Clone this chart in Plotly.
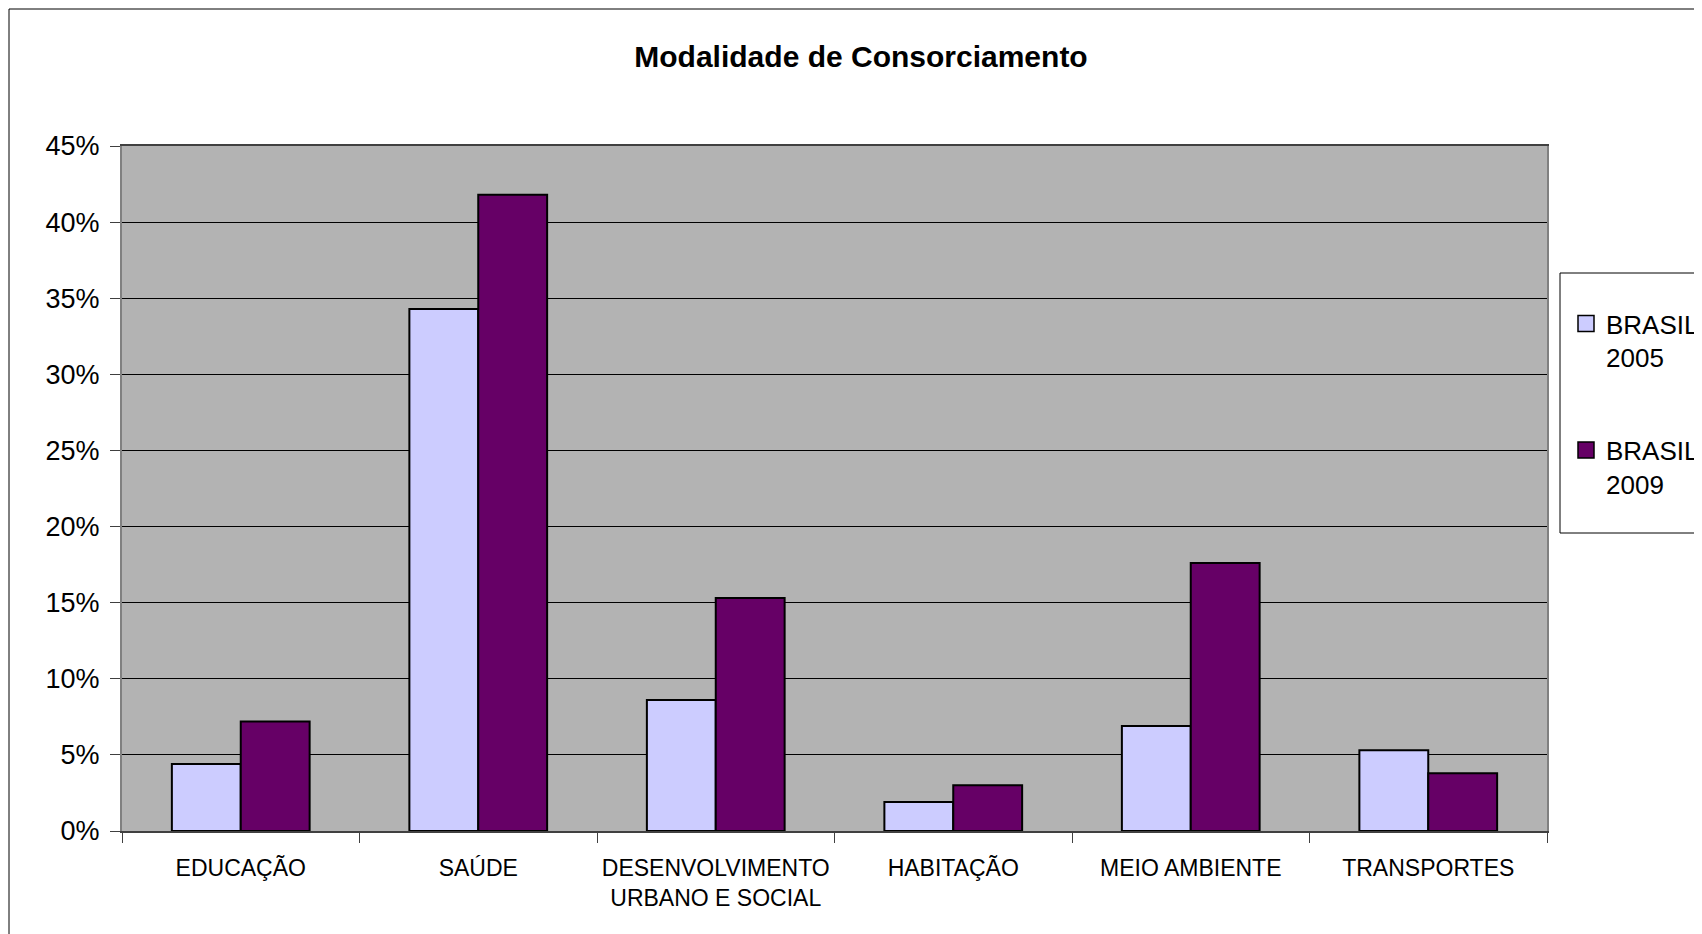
import plotly.graph_objects as go

categories = ["EDUCAÇÃO", "SAÚDE", "DESENVOLVIMENTO<br>URBANO E SOCIAL", "HABITAÇÃO", "MEIO AMBIENTE", "TRANSPORTES"]
brasil_2005 = [0.044, 0.343, 0.086, 0.019, 0.069, 0.053]
brasil_2009 = [0.072, 0.418, 0.153, 0.030, 0.176, 0.038]
series_names = ["BRASIL<br>2005", "BRASIL<br>2009"]
series_colors = ["#CCCCFF", "#660066"]
y_ticks = [0, 0.05, 0.10, 0.15, 0.20, 0.25, 0.30, 0.35, 0.40, 0.45]

FONT = "Arial, Liberation Sans, sans-serif"
OFF = 8  # default body margin of the html page
W, H = 1702 - OFF, 934 - OFF
L, R, T, B = 114, 155, 138, 103
PW, PH = W - L - R, H - T - B

def px_x(p):  # page pixel -> paper x
    return (p - OFF - L) / PW

def px_y(p):  # page pixel -> paper y
    return (H - B - (p - OFF)) / PH

fig = go.Figure()
for i, (name, vals) in enumerate(zip(series_names, [brasil_2005, brasil_2009])):
    fig.add_trace(go.Bar(
        x=categories, y=vals, name=name, legendgroup=str(i), showlegend=False,
        marker=dict(color=series_colors[i], line=dict(color="black", width=2)),
    ))
# legend entries with larger square swatches
for i, name in enumerate(series_names):
    fig.add_trace(go.Scatter(
        x=[None], y=[None], mode="markers", name=name, legendgroup=str(i),
        marker=dict(symbol="square", size=18, color=series_colors[i], line=dict(color="black", width=1.5)),
    ))

fig.update_layout(
    width=W, height=H,
    margin=dict(l=L, r=R, t=T, b=B, autoexpand=False),
    paper_bgcolor="white", plot_bgcolor="#B3B3B3",
    barmode="group", bargap=0.42, bargroupgap=0,
    font=dict(family=FONT, color="black"),
    title=dict(text="Modalidade de Consorciamento", x=px_x(861), xref="paper", xanchor="center",
               y=1 - (56 - OFF) / H, yref="container", yanchor="middle",
               font=dict(family=FONT, size=30, weight="bold", color="black")),
    showlegend=True,
    legend=dict(x=px_x(1566), y=px_y(300), xanchor="left", yanchor="top",
                font=dict(family=FONT, size=26, color="black"),
                bgcolor="rgba(0,0,0,0)", borderwidth=0, valign="top",
                traceorder="grouped", tracegroupgap=56),
    shapes=[
        dict(type="rect", xref="paper", yref="paper", x0=px_x(9), x1=1.3, y0=-0.3, y1=px_y(9),
             line=dict(color="black", width=1), layer="below"),
        dict(type="rect", xref="paper", yref="paper", x0=px_x(1560), x1=1.3, y0=px_y(533), y1=px_y(273),
             line=dict(color="black", width=1), fillcolor="white", layer="below"),
    ],
)

fig.update_yaxes(
    range=[0, 0.45], tickvals=y_ticks, tickformat=".0%",
    showgrid=True, gridcolor="black", gridwidth=1,
    showline=True, linecolor="#808080", linewidth=2, mirror=True,
    ticks="outside", ticklen=10, tickcolor="#404040", tickwidth=1,
    ticklabelstandoff=5,
    tickfont=dict(family=FONT, size=27, color="black"),
    zeroline=False,
)
fig.update_xaxes(
    showline=True, linecolor="#404040", linewidth=2, mirror=True,
    ticks="outside", ticklen=10, tickcolor="#404040", tickwidth=1, tickson="boundaries",
    ticklabelstandoff=15,
    tickfont=dict(family=FONT, size=23, color="black"),
    showgrid=False,
)

fig.write_html("out.html")
